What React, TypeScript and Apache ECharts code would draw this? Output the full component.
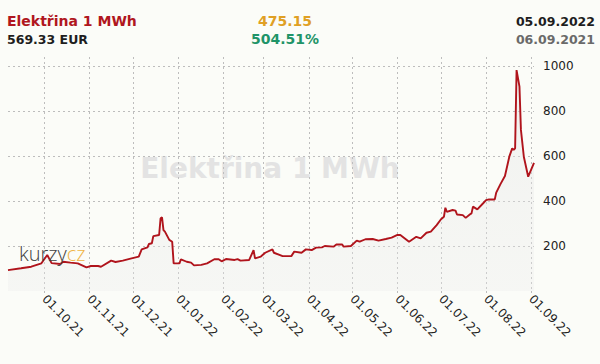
import React, { useEffect, useRef } from "react";
import * as echarts from "echarts";

const dates: string[] = [
  "2021-09-06", "2021-09-15", "2021-09-22", "2021-09-29", "2021-10-03", "2021-10-06",
  "2021-10-12", "2021-10-14", "2021-10-19", "2021-10-24", "2021-10-30", "2021-11-02",
  "2021-11-07", "2021-11-09", "2021-11-16", "2021-11-19", "2021-11-24", "2021-11-30",
  "2021-12-05", "2021-12-07", "2021-12-11", "2021-12-12", "2021-12-14", "2021-12-15",
  "2021-12-19", "2021-12-20", "2021-12-21", "2021-12-22", "2021-12-23", "2021-12-26",
  "2021-12-28", "2021-12-29", "2022-01-02", "2022-01-03", "2022-01-07", "2022-01-10",
  "2022-01-12", "2022-01-17", "2022-01-21", "2022-01-26", "2022-01-29", "2022-01-31",
  "2022-02-03", "2022-02-09", "2022-02-11", "2022-02-13", "2022-02-19", "2022-02-22",
  "2022-02-23", "2022-02-27", "2022-03-02", "2022-03-07", "2022-03-08", "2022-03-14",
  "2022-03-20", "2022-03-22", "2022-03-27", "2022-03-30", "2022-04-03", "2022-04-06",
  "2022-04-10", "2022-04-12", "2022-04-18", "2022-04-20", "2022-04-24", "2022-04-25",
  "2022-04-30", "2022-05-04", "2022-05-06", "2022-05-10", "2022-05-15", "2022-05-19",
  "2022-05-24", "2022-05-28", "2022-06-01", "2022-06-03", "2022-06-09", "2022-06-14",
  "2022-06-17", "2022-06-21", "2022-06-24", "2022-06-28", "2022-07-01", "2022-07-03",
  "2022-07-04", "2022-07-05", "2022-07-09", "2022-07-11", "2022-07-12", "2022-07-16",
  "2022-07-18", "2022-07-21", "2022-07-22", "2022-07-23", "2022-07-26", "2022-07-30",
  "2022-08-01", "2022-08-03", "2022-08-07", "2022-08-08", "2022-08-11", "2022-08-14",
  "2022-08-17", "2022-08-19", "2022-08-20", "2022-08-21", "2022-08-22", "2022-08-24",
  "2022-08-25", "2022-08-27", "2022-08-30", "2022-09-03",
];

const prices: number[] = [
  93, 101, 108, 123, 160, 124,
  120, 130, 126, 123, 105, 111,
  111, 108, 135, 129, 135, 145,
  153, 185, 194, 209, 212, 244,
  249, 323, 327, 271, 264, 227,
  219, 123, 123, 141, 130, 126,
  114, 116, 123, 141, 141, 132,
  142, 138, 142, 135, 138, 182,
  145, 153, 170, 185, 170, 155,
  155, 175, 170, 185, 182, 193,
  194, 200, 197, 207, 207, 197,
  200, 224, 219, 230, 231, 224,
  231, 237, 249, 249, 219, 241,
  234, 259, 264, 293, 319, 330,
  370, 352, 360, 357, 340, 337,
  325, 341, 345, 375, 363, 390,
  404, 407, 407, 437, 476, 511,
  597, 634, 627, 634, 982, 908,
  716, 597, 508, 569,
];

const monthTicks: string[] = [
  "2021-10-01", "2021-11-01", "2021-12-01", "2022-01-01", "2022-02-01", "2022-03-01",
  "2022-04-01", "2022-05-01", "2022-06-01", "2022-07-01", "2022-08-01", "2022-09-01",
];

const yTicks: number[] = [200, 400, 600, 800, 1000];

const headerTitle = "Elektřina 1 MWh";
const headerPrice = "569.33 EUR";
const headerChange = "475.15";
const headerChangePct = "504.51%";
const headerDateTo = "05.09.2022";
const headerDateFrom = "06.09.2021";

function ts(s: string): number {
  const [y, m, d] = s.split("-").map(Number);
  return new Date(y, m - 1, d).getTime();
}

function fmt(v: number): string {
  const d = new Date(v);
  const dd = String(d.getDate()).padStart(2, "0");
  const mm = String(d.getMonth() + 1).padStart(2, "0");
  const yy = String(d.getFullYear() % 100).padStart(2, "0");
  return `${dd}.${mm}.${yy}`;
}

const FONT = '"DejaVu Sans", Verdana, sans-serif';

export default function App() {
  const ref = useRef<HTMLDivElement>(null);

  useEffect(() => {
    document.body.style.margin = "0";
    if (!ref.current) return;
    const chart = echarts.init(ref.current, null, { renderer: "svg" });
    const tickVals = monthTicks.map(ts);
    const grid = "#bdbdbd";
    chart.setOption({
      animation: false,
      backgroundColor: "#fbfcf8",
      grid: { left: 8, right: 66, top: 57, bottom: 73, containLabel: false },
      xAxis: {
        type: "value",
        min: ts(dates[0]),
        max: ts(dates[dates.length - 1]),
        axisLine: { show: false },
        axisTick: {
          show: true,
          customValues: tickVals,
          length: 3,
          lineStyle: { color: grid, type: [2, 3] },
        },
        axisLabel: {
          customValues: tickVals,
          formatter: (v: number) => fmt(v),
          rotate: -45,
          fontSize: 12,
          fontFamily: FONT,
          color: "#222",
          margin: 6,
          hideOverlap: false,
        },
        splitLine: { show: true, lineStyle: { color: grid, type: [2, 3], width: 1 } },
      },
      yAxis: {
        type: "value",
        position: "right",
        min: 0,
        max: 1040,
        axisLine: { show: false },
        axisTick: { show: false, customValues: yTicks },
        axisLabel: {
          customValues: yTicks,
          formatter: (v: number) => String(v),
          fontSize: 12,
          fontFamily: FONT,
          color: "#222",
          margin: 9,
        },
        splitLine: { show: true, lineStyle: { color: grid, type: [2, 3], width: 1 } },
      },
      graphic: [
        {
          type: "text",
          x: 270,
          y: 168.5,
          z: 0,
          style: {
            text: headerTitle,
            font: `bold 28px ${FONT}`,
            fill: "#e3e3e3",
            align: "center",
            verticalAlign: "middle",
          },
        },
        {
          type: "text",
          x: 19,
          y: 253,
          z: 10,
          style: {
            text: "{a|kurzy}{b|cz}",
            verticalAlign: "middle",
            rich: {
              a: { fontSize: 20, fontFamily: '"Open Sans", sans-serif', fontWeight: 300, fill: "#404040", color: "#404040" },
              b: { fontSize: 20, fontFamily: '"Open Sans", sans-serif', fontWeight: 300, fill: "#f0b444", color: "#f0b444" },
            },
          },
        },
        {
          type: "text",
          x: 7,
          y: 21,
          style: { text: headerTitle, font: `bold 14px ${FONT}`, fill: "#b01620", align: "left", verticalAlign: "middle" },
        },
        {
          type: "text",
          x: 7,
          y: 39,
          style: { text: headerPrice, font: `bold 12.5px ${FONT}`, fill: "#1e1e1e", align: "left", verticalAlign: "middle" },
        },
        {
          type: "text",
          x: 285,
          y: 21,
          style: { text: headerChange, font: `bold 14px ${FONT}`, fill: "#e0a024", align: "center", verticalAlign: "middle" },
        },
        {
          type: "text",
          x: 285,
          y: 39,
          style: { text: headerChangePct, font: `bold 14px ${FONT}`, fill: "#1f9468", align: "center", verticalAlign: "middle" },
        },
        {
          type: "text",
          x: 595,
          y: 21,
          style: { text: headerDateTo, font: `bold 12.5px ${FONT}`, fill: "#1e1e1e", align: "right", verticalAlign: "middle" },
        },
        {
          type: "text",
          x: 595,
          y: 39,
          style: { text: headerDateFrom, font: `bold 12.5px ${FONT}`, fill: "#6a6a6a", align: "right", verticalAlign: "middle" },
        },
      ],
      series: [
        {
          type: "line",
          data: dates.map((d, i) => [ts(d), prices[i]]),
          showSymbol: false,
          symbol: "none",
          z: 3,
          lineStyle: { color: "#b0141c", width: 1.9 },
          areaStyle: {
            color: new echarts.graphic.LinearGradient(0, 0, 0, 1, [
              { offset: 0, color: "rgba(225,225,225,0.55)" },
              { offset: 1, color: "rgba(235,235,235,0.45)" },
            ]),
          },
        },
      ],
    });
    return () => chart.dispose();
  }, []);

  return <div ref={ref} style={{ width: 600, height: 364 }} />;
}
